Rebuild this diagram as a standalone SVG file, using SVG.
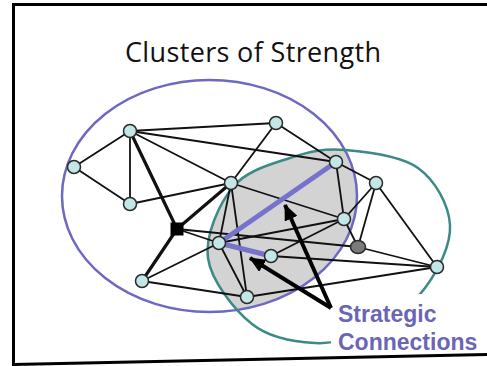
<svg xmlns="http://www.w3.org/2000/svg" width="487" height="366" viewBox="0 0 487 366">
<style>
.e{stroke:#111;stroke-width:1.8;fill:none;stroke-linecap:round}
.t{stroke-width:3.2}
.n{fill:#c3e6e6;stroke:#2a2a2a;stroke-width:1.5}
.ar{stroke:#000;stroke-width:4;fill:none}
.lbl{font-family:"Liberation Sans",Arial,sans-serif;font-weight:bold;font-size:23px;fill:#6b65b5}
</style>
<defs>
<path id="teal" d="M345,150 C366.3,151.7 400.5,155.5 418,168 C435.5,180.5 448.8,205 450,225 C451.2,245 438,270.5 425,288 C412,305.5 390.3,320.8 372,330 C353.7,339.2 335,344 315,343 C295,342 269.8,338.2 252,324 C234.2,309.8 211.2,280.8 208,258 C204.8,235.2 219.3,203.7 233,187 C246.7,170.3 271.3,164.2 290,158 C308.7,151.8 323.7,148.3 345,150 Z"/>
<clipPath id="pc"><ellipse cx="209.5" cy="196" rx="147.5" ry="116"/></clipPath>
<marker id="ah" viewBox="0 0 16 14" refX="15" refY="7" markerWidth="16" markerHeight="14" markerUnits="userSpaceOnUse" orient="auto"><path d="M0,0 L16,7 L0,14 z" fill="#000"/></marker>
</defs>
<rect width="487" height="366" fill="#fff"/>
<g id="frame" fill="none" stroke="#000" stroke-width="3">
<path d="M487,4.5 H13.5 V364.5 L487,354.5"/>
</g>
<text x="125" y="62" font-family="'Open Sans','Liberation Sans',Arial,sans-serif" font-size="27" textLength="256" fill="#111">Clusters of Strength</text>
<g id="clusters">
<use href="#teal" fill="#d3d3d3" clip-path="url(#pc)"/>
<ellipse cx="209.5" cy="196" rx="147.5" ry="116" fill="none" stroke="#6d68c2" stroke-width="2.5"/>
<use href="#teal" fill="none" stroke="#3b8a86" stroke-width="2.5"/>
</g>
<g id="connectors">
<line class="e" x1="130" y1="131" x2="74" y2="167"/>
<line class="e" x1="130" y1="131" x2="130" y2="204"/>
<line class="e" x1="130" y1="131" x2="276" y2="123"/>
<line class="e" x1="130" y1="131" x2="231" y2="183"/>
<line class="e" x1="130" y1="131" x2="336" y2="162"/>
<line class="e t" x1="130" y1="131" x2="177" y2="229"/>
<line class="e" x1="74" y1="167" x2="130" y2="204"/>
<line class="e" x1="130" y1="204" x2="231" y2="183"/>
<line class="e" x1="231" y1="183" x2="276" y2="123"/>
<line class="e t" x1="231" y1="183" x2="177" y2="229"/>
<line class="e" x1="231" y1="183" x2="344" y2="219"/>
<line class="e" x1="231" y1="183" x2="219" y2="243"/>
<line class="e" x1="231" y1="183" x2="247" y2="297"/>
<line class="e" x1="276" y1="123" x2="336" y2="162"/>
<line class="e" x1="336" y1="162" x2="376" y2="183"/>
<line class="e" x1="336" y1="162" x2="344" y2="219"/>
<line class="e" x1="376" y1="183" x2="344" y2="219"/>
<line class="e" x1="376" y1="183" x2="358" y2="247"/>
<line class="e" x1="376" y1="183" x2="437" y2="267"/>
<line class="e" x1="344" y1="219" x2="358" y2="247"/>
<line class="e" x1="344" y1="219" x2="219" y2="243"/>
<line class="e" x1="344" y1="219" x2="271" y2="256"/>
<line class="e" x1="358" y1="247" x2="437" y2="267"/>
<line class="e" x1="358" y1="247" x2="177" y2="229"/>
<line class="e" x1="177" y1="229" x2="219" y2="243"/>
<line class="e t" x1="177" y1="229" x2="142" y2="281"/>
<line class="e" x1="219" y1="243" x2="142" y2="281"/>
<line class="e" x1="219" y1="243" x2="247" y2="297"/>
<line class="e" x1="142" y1="281" x2="247" y2="297"/>
<line class="e" x1="247" y1="297" x2="437" y2="267"/>
<line class="e" x1="271" y1="256" x2="437" y2="267"/>
<polyline points="336,162 219,243 271,256" fill="none" stroke="#7773cc" stroke-width="5" stroke-linejoin="round"/>
</g>
<g id="nodes">
<g id="nA"><circle class="n" cx="130" cy="131" r="6.5"/></g>
<g id="nB"><circle class="n" cx="74" cy="167" r="6.5"/></g>
<g id="nC"><circle class="n" cx="130" cy="204" r="6.5"/></g>
<g id="nD"><circle class="n" cx="231" cy="183" r="6.5"/></g>
<g id="nE"><circle class="n" cx="276" cy="123" r="6.5"/></g>
<g id="nF"><circle class="n" cx="336" cy="162" r="6.5"/></g>
<g id="nG"><circle class="n" cx="376" cy="183" r="6.5"/></g>
<g id="nH"><circle class="n" cx="344" cy="219" r="6.5"/></g>
<g id="nI"><circle class="n" cx="219" cy="243" r="6.5"/></g>
<g id="nJ"><circle class="n" cx="271" cy="256" r="6.5"/></g>
<g id="nK"><circle class="n" cx="142" cy="281" r="6.5"/></g>
<g id="nL"><circle class="n" cx="247" cy="297" r="6.5"/></g>
<g id="nM"><circle class="n" cx="437" cy="267" r="6.5"/></g>
<g id="nS"><rect x="170.5" y="222.5" width="13" height="13" fill="#000"/></g>
<g id="nQ"><ellipse cx="358" cy="247" rx="7.5" ry="6.5" fill="#7a7a7a" stroke="#2a2a2a" stroke-width="1.5"/></g>
</g>
<g id="label">
<rect x="331" y="294" width="152" height="58" fill="#fff"/>
<line class="ar" x1="331" y1="308" x2="285" y2="205" marker-end="url(#ah)"/>
<line class="ar" x1="331" y1="308" x2="250" y2="258" marker-end="url(#ah)"/>
<text class="lbl" x="338" y="322">Strategic</text>
<text class="lbl" x="338" y="350">Connections</text>
</g>
</svg>
